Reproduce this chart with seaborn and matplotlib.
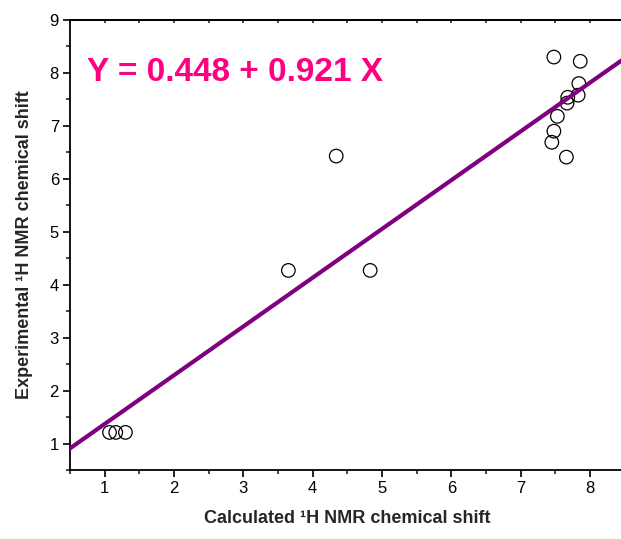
import numpy as np
import pandas as pd
import seaborn as sns
import matplotlib.pyplot as plt
from matplotlib.ticker import MultipleLocator

# calculated vs experimental 1H shifts
calc = [1.07, 1.16, 1.30, 3.65, 4.34, 4.83,
        7.48, 7.86, 7.84, 7.83, 7.68, 7.67, 7.53, 7.48, 7.45, 7.66]
expt = [1.21, 1.21, 1.21, 4.27, 6.43, 4.27,
        8.30, 8.22, 7.80, 7.58, 7.54, 7.43, 7.18, 6.90, 6.69, 6.41]

intercept = 0.448
slope = 0.921
fit_x = [0.5, 8.5]

df = pd.DataFrame({"calc": calc, "expt": expt})
line = pd.DataFrame({"x": fit_x, "y": [intercept + slope * v for v in fit_x]})

sns.set_style("ticks")
plt.rcParams["font.family"] = ["Liberation Sans", "DejaVu Sans"]

fig = plt.figure(figsize=(6.21, 5.39), dpi=100)
ax = fig.add_axes([70 / 621, 69 / 539, 554.6 / 621, 450 / 539])

sns.scatterplot(data=df, x="calc", y="expt", ax=ax, s=95,
                facecolor="none", edgecolor="black", linewidth=0.9, zorder=2)
sns.lineplot(data=line, x="x", y="y", ax=ax, color="#800080",
             linewidth=3, zorder=3)

ax.set_xlim(0.5, 8.5)
ax.set_ylim(0.5, 9)
ax.xaxis.set_major_locator(MultipleLocator(1))
ax.xaxis.set_minor_locator(MultipleLocator(0.5))
ax.yaxis.set_major_locator(MultipleLocator(1))
ax.yaxis.set_minor_locator(MultipleLocator(0.5))
ax.tick_params(which="major", direction="out", length=5, width=1.2,
               labelsize=12, pad=3, colors="black")
ax.tick_params(which="minor", direction="out", length=3, width=1.2)
ax.tick_params(which="both", top=False, right=False)

# tiny inward ticks on the top frame
top = ax.secondary_xaxis("top")
top.xaxis.set_major_locator(MultipleLocator(1))
top.xaxis.set_minor_locator(MultipleLocator(0.5))
top.tick_params(which="both", direction="in", length=2, width=1.2,
                labeltop=False)
top.spines["top"].set_linewidth(1.3)

for sp in ax.spines.values():
    sp.set_linewidth(1.3)
    sp.set_color("black")

ax.set_xlabel("Calculated ¹H NMR chemical shift", fontsize=13,
              fontweight="bold", labelpad=10)
ax.set_ylabel("Experimental ¹H NMR chemical shift", fontsize=13,
              fontweight="bold", labelpad=12)

ax.text(0.75, 8.0, "Y = 0.448 + 0.921 X", fontsize=24, fontweight="bold",
        color="#FF0080", va="center", ha="left")

fig.savefig("out.png", dpi=100)
